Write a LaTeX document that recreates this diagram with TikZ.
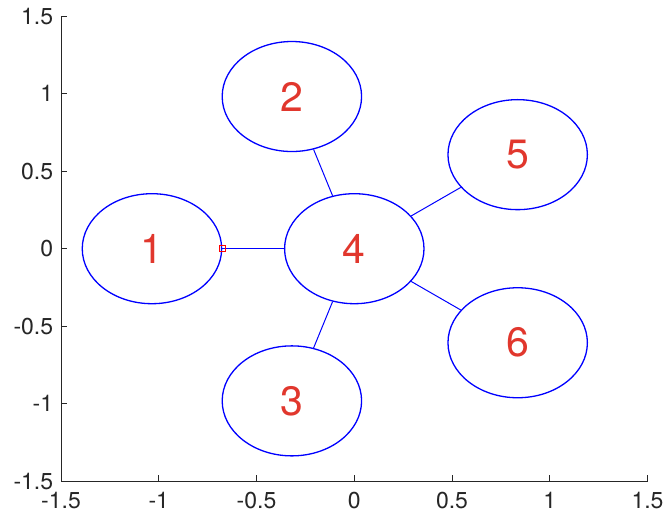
\documentclass[tikz,border=0pt]{standalone}
\usepackage{fontspec}
\setmainfont{TeX Gyre Heros}
\usetikzlibrary{shapes.geometric}
\definecolor{axgray}{RGB}{38,38,38}
\definecolor{lblred}{RGB}{225,55,45}
\definecolor{nodeblue}{RGB}{0,0,255}
\newcommand{\vlbl}[1]{\raisebox{-2pt}{#1}}
\begin{document}
\begin{tikzpicture}[x=195.5pt,y=154.9pt,
  axisline/.style={draw=axgray,line width=1pt},
  ticklbl/.style={inner sep=0pt,text=axgray,font=\fontsize{23}{23}\selectfont},
  vnode/.style={ellipse,draw=nodeblue,line width=1.3pt,minimum width=139.4pt,minimum height=110pt,inner sep=0pt,text=lblred,font=\fontsize{41}{41}\selectfont},
  edge/.style={draw=nodeblue,line width=1pt},
  marker/.style={rectangle,draw=red,line width=1.1pt,minimum size=6.5pt,inner sep=0pt}]
\useasboundingbox (-354.3pt,-265.3pt) rectangle (310.7pt,248.7pt);
% axes
\coordinate (o) at (-1.5,-1.5);
\coordinate (xe) at (1.5,-1.5);
\coordinate (ye) at (-1.5,1.5);
\draw[axisline] (ye) -- (o) -- (xe);
\foreach \v/\t in {-1.5/-1.5,-1/-1,-0.5/-0.5,0/0,0.5/0.5,1/1,1.5/1.5}{
  \draw[axisline] (\v,-1.5) -- ++(0,6pt);
  \node[ticklbl,anchor=north] (xl\t) at ([yshift=-11pt]\v,-1.5) {\t};
  \draw[axisline] (-1.5,\v) -- ++(6pt,0);
  \node[ticklbl,anchor=east] (yl\t) at ([xshift=-7.7pt]-1.5,\v) {\t};
}
% nodes
\node[vnode] (n4) at (0,0) {\vlbl{4}};
\node[vnode] (n1) at (180:1.035) {\vlbl{1}};
\node[vnode] (n2) at ({1.033*cos(108)},{1.033*sin(108)}) {\vlbl{2}};
\node[vnode] (n5) at ({1.033*cos(36)},{1.033*sin(36)}) {\vlbl{5}};
\node[vnode] (n6) at ({1.033*cos(-36)},{1.033*sin(-36)}) {\vlbl{6}};
\node[vnode] (n3) at ({1.033*cos(-108)},{1.033*sin(-108)}) {\vlbl{3}};
% edges
\draw[edge] (n4) -- (n1);
\draw[edge] (n4) -- (n2);
\draw[edge] (n4) -- (n3);
\draw[edge] (n4) -- (n5);
\draw[edge] (n4) -- (n6);
\node[marker] (m1) at (n1.east) {};
\end{tikzpicture}
\end{document}
